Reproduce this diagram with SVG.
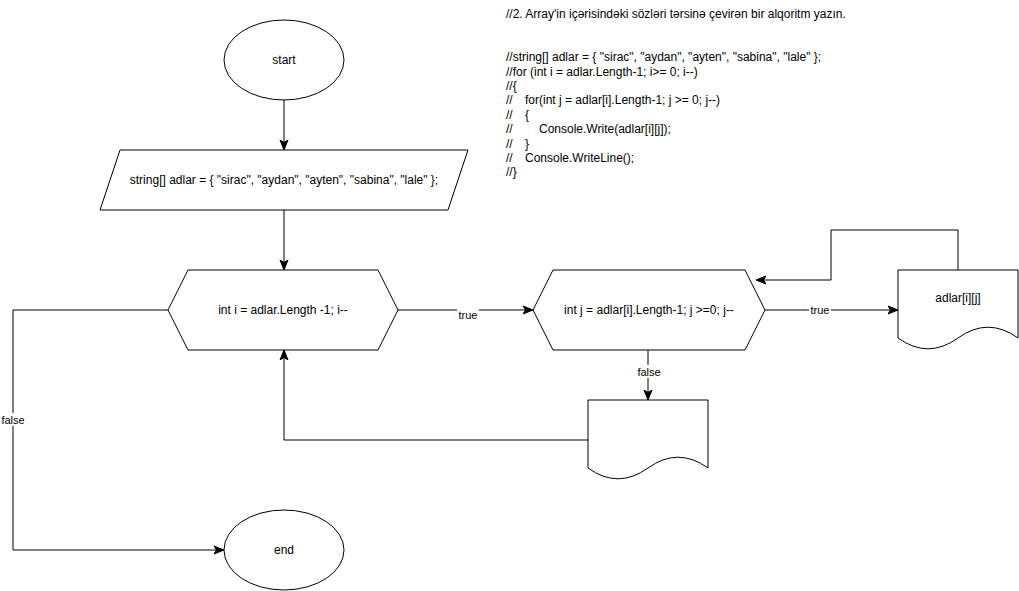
<svg xmlns="http://www.w3.org/2000/svg" width="1019" height="591" viewBox="0 0 1019 591">
<style>
.s{fill:#fff;stroke:#000;stroke-width:1}
.c{fill:none;stroke:#000;stroke-width:1}
text{font-family:"Liberation Sans",Arial,sans-serif;font-size:12px;fill:#000}
.m{text-anchor:middle}
.lb{font-size:11px;text-anchor:middle}
</style>
<defs>
<marker id="a" viewBox="0 0 10 10" refX="9" refY="5" markerWidth="10" markerHeight="10" markerUnits="userSpaceOnUse" orient="auto">
<path d="M0,1 L10,5 L0,9 L2.5,5 Z" fill="#000" stroke="#000" stroke-width="1"/>
</marker>
</defs>
<rect width="1019" height="591" fill="#fff"/>
<g id="connectors">
<path class="c" d="M284,100 V149" marker-end="url(#a)"/>
<path class="c" d="M284,210 V269" marker-end="url(#a)"/>
<path class="c" d="M398,310 H532" marker-end="url(#a)"/>
<path class="c" d="M765,310 H897" marker-end="url(#a)"/>
<path class="c" d="M958,270 V230 H831 V280 H757" marker-end="url(#a)"/>
<path class="c" d="M648,350 V399" marker-end="url(#a)"/>
<path class="c" d="M588,440 H284 V351" marker-end="url(#a)"/>
<path class="c" d="M168,310 H13 V550 H223" marker-end="url(#a)"/>
<rect x="457" y="308" width="22" height="13" fill="#fff"/>
<text class="lb" x="468" y="319">true</text>
<rect x="809" y="303" width="22" height="13" fill="#fff"/>
<text class="lb" x="820" y="314">true</text>
<rect x="636" y="365" width="26" height="13" fill="#fff"/>
<text class="lb" x="649" y="376">false</text>
<rect x="0" y="413" width="26" height="13" fill="#fff"/>
<text class="lb" x="13" y="424">false</text>
</g>
<g id="start">
<ellipse class="s" cx="284" cy="60" rx="60" ry="40"/>
<text class="m" x="284" y="64">start</text>
</g>
<g id="init">
<path class="s" d="M120,150 H468 L448,210 H100 Z"/>
<text class="m" x="284" y="184">string[] adlar = { "sirac", "aydan", "ayten", "sabina", "lale" };</text>
</g>
<g id="loop-i">
<path class="s" d="M188,270 H378 L398,310 L378,350 H188 L168,310 Z"/>
<text class="m" x="283" y="314">int i = adlar.Length -1; i--</text>
</g>
<g id="loop-j">
<path class="s" d="M553,270 H745 L765,310 L745,350 H553 L533,310 Z"/>
<text class="m" x="649" y="314">int j = adlar[i].Length-1; j &gt;=0; j--</text>
</g>
<g id="output-char">
<path class="s" d="M898,270 H1018 V338 Q988,316.4 958,338 Q928,359.6 898,338 Z"/>
<text class="m" x="958" y="302">adlar[i][j]</text>
</g>
<g id="output-line">
<path class="s" d="M588,400 H708 V468 Q678,446.4 648,468 Q618,489.6 588,468 Z"/>
</g>
<g id="end">
<ellipse class="s" cx="284" cy="550" rx="60" ry="40"/>
<text class="m" x="284" y="554">end</text>
</g>
<g id="note">
<text x="506" y="18">//2. Array'in içərisindəki sözləri tərsinə çevirən bir alqoritm yazın.</text>
<text x="506" y="61.2">//string[] adlar = { "sirac", "aydan", "ayten", "sabina", "lale" };</text>
<text x="506" y="75.6">//for (int i = adlar.Length-1; i&gt;= 0; i--)</text>
<text x="506" y="90">//{</text>
<text x="506" y="104.4">//</text><text x="525" y="104.4">for(int j = adlar[i].Length-1; j &gt;= 0; j--)</text>
<text x="506" y="118.8">//</text><text x="525" y="118.8">{</text>
<text x="506" y="133.2">//</text><text x="539" y="133.2">Console.Write(adlar[i][j]);</text>
<text x="506" y="147.6">//</text><text x="525" y="147.6">}</text>
<text x="506" y="162">//</text><text x="525" y="162">Console.WriteLine();</text>
<text x="506" y="176.4">//}</text>
</g>
</svg>
